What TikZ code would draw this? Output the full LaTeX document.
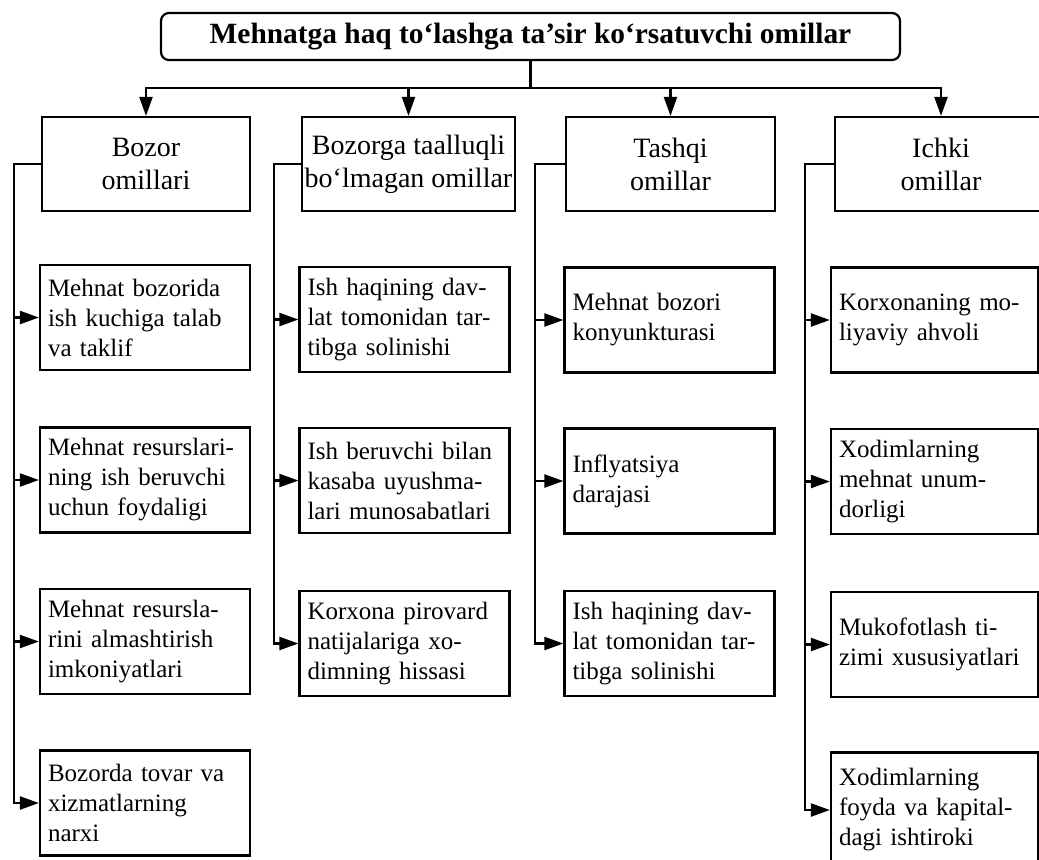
\documentclass[tikz,border=0pt]{standalone}
\usepackage{fontspec}
\setmainfont{Liberation Serif}
\usetikzlibrary{arrows.meta, positioning}
\hyphenpenalty=10000
\exhyphenpenalty=10000

\begin{document}
\begin{tikzpicture}[
    x=0.5pt, y=-0.5pt,
    line width=1.1pt,
    >={Triangle[length=9.5pt,width=6.5pt]},
    topbox/.style={rectangle, draw, rounded corners=4pt, minimum width=369.5pt, minimum height=23.5pt, font=\fontsize{14.7}{16}\selectfont\bfseries},
    head/.style={rectangle, draw, minimum height=47pt, align=center, inner sep=1pt, font=\fontsize{14}{16.5}\selectfont},
    item/.style={rectangle, draw, text width=97pt, minimum height=52.5pt, inner xsep=4pt, align=left, font=\fontsize{12.5}{15}\selectfont},
    itemr/.style={item, text width=95.5pt}
]
\useasboundingbox (0,0) rectangle (1039,859);

\node[topbox] (title) at (530.5,36.5) {Mehnatga haq to‘lashga ta’sir ko‘rsatuvchi omillar};

\node[head, minimum width=104pt] (h1) at (146,164) {Bozor\\omillari};
\node[head, minimum width=106.5pt] (h2) at (408.5,164) {Bozorga taalluqli\\bo‘lmagan omillar};
\node[head, minimum width=104.5pt] (h3) at (670.5,164) {Tashqi\\omillar};
\node[head, minimum width=106pt] (h4) at (941,164) {Ichki\\omillar};

\node[item] (a1) at (145,317.5) {Mehnat bozorida\\ish kuchiga talab\\va taklif};
\node[item] (a2) at (145,480) {Mehnat resurslari-\\ning ish beruvchi\\uchun foydaligi};
\node[item] (a3) at (145,641.5) {Mehnat resursla-\\rini almashtirish\\imkoniyatlari};
\node[item] (a4) at (145,803) {Bozorda tovar va\\xizmatlarning\\narxi};

\node[item] (b1) at (404.5,319.5) {Ish haqining dav-\\lat tomonidan tar-\\tibga solinishi};
\node[item] (b2) at (404.5,480.5) {Ish beruvchi bilan\\kasaba uyushma-\\lari munosabatlari};
\node[item] (b3) at (404.5,643.5) {Korxona pirovard\\natijalariga xo-\\dimning hissasi};

\node[item] (c1) at (669.5,320) {Mehnat bozori\\konyunkturasi};
\node[item] (c2) at (669.5,481) {Inflyatsiya\\darajasi};
\node[item] (c3) at (669.5,643.5) {Ish haqining dav-\\lat tomonidan tar-\\tibga solinishi};

\node[itemr] (d1) at (934.5,320) {Korxonaning mo-\\liyaviy ahvoli};
\node[itemr] (d2) at (934.5,481.5) {Xodimlarning\\mehnat unum-\\dorligi};
\node[itemr] (d3) at (934.5,644.5) {Mukofotlash ti-\\zimi xususiyatlari};
\node[itemr, minimum height=57.5pt] (d4) at (934.5,810) {Xodimlarning\\foyda va kapital-\\dagi ishtiroki};

\coordinate (jn) at (530.5,88);
\coordinate (r1) at (14,164);
\coordinate (r2) at (274,164);
\coordinate (r3) at (535,164);
\coordinate (r4) at (805,164);

\draw (title) -- (jn);
\draw[->] (jn) -| (h1);
\draw[->] (jn) -| (h2);
\draw[->] (jn) -| (h3);
\draw[->] (jn) -| (h4);

\draw[->] (h1.west) -- (r1) |- (a1.west);
\draw[->] (h1.west) -- (r1) |- (a2.west);
\draw[->] (h1.west) -- (r1) |- (a3.west);
\draw[->] (h1.west) -- (r1) |- (a4.west);

\draw[->] (h2.west) -- (r2) |- (b1.west);
\draw[->] (h2.west) -- (r2) |- (b2.west);
\draw[->] (h2.west) -- (r2) |- (b3.west);

\draw[->] (h3.west) -- (r3) |- (c1.west);
\draw[->] (h3.west) -- (r3) |- (c2.west);
\draw[->] (h3.west) -- (r3) |- (c3.west);

\draw[->] (h4.west) -- (r4) |- (d1.west);
\draw[->] (h4.west) -- (r4) |- (d2.west);
\draw[->] (h4.west) -- (r4) |- (d3.west);
\draw[->] (h4.west) -- (r4) |- (d4.west);
\end{tikzpicture}
\end{document}
